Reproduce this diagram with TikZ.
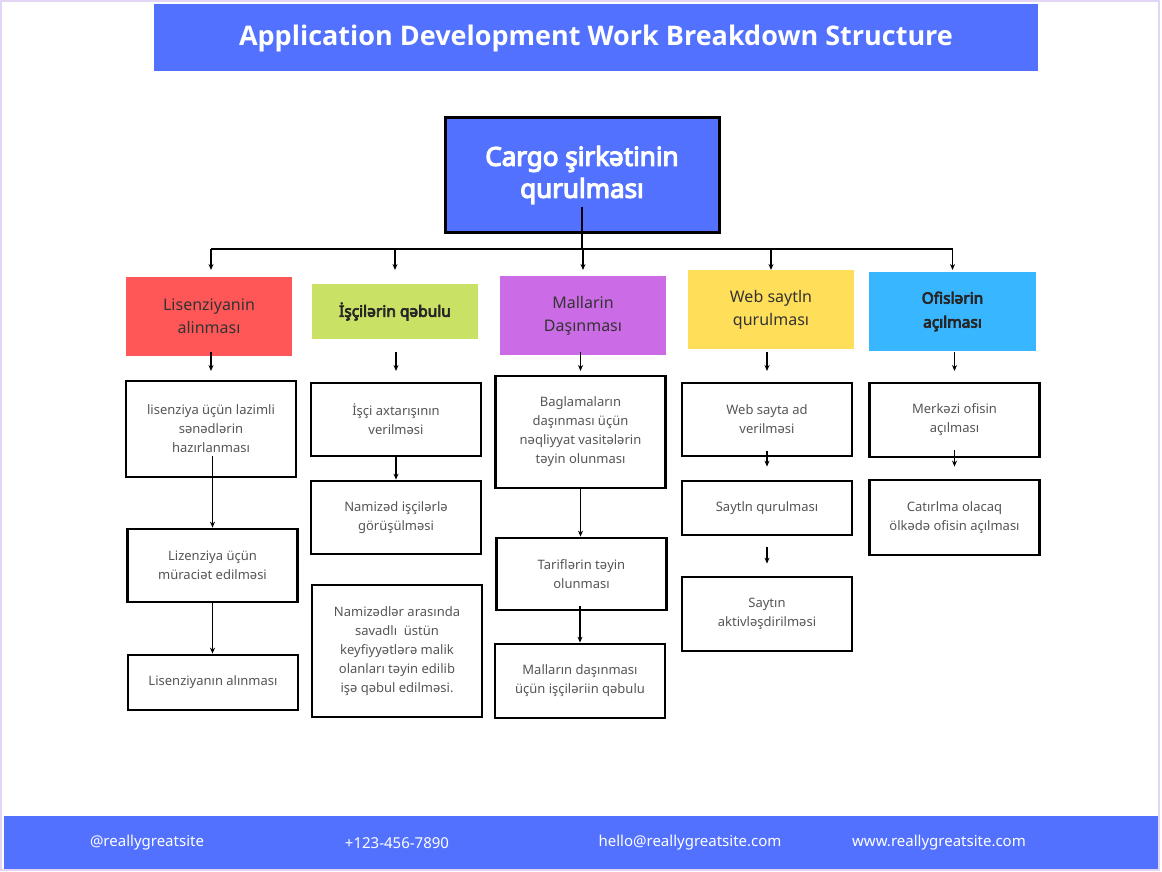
\documentclass[tikz,border=0pt]{standalone}
\usepackage{fontspec}
\setmainfont{Noto Sans}
\newfontfamily\titlefont{Open Sans}
\newfontfamily\heavyfont{Noto Sans}[FakeBold=4.5]
\usepackage{xcolor}
\usepackage{tikz}
\usetikzlibrary{arrows.meta, positioning}

\definecolor{bandblue}{HTML}{5271FF}
\definecolor{hdrred}{HTML}{FF5757}
\definecolor{hdrgreen}{HTML}{C9E265}
\definecolor{hdrpurple}{HTML}{CB6CE6}
\definecolor{hdryellow}{HTML}{FFDE59}
\definecolor{hdrblue}{HTML}{38B6FF}
\definecolor{hdrtext}{HTML}{333333}
\definecolor{tasktext}{HTML}{555555}
\definecolor{frameline}{HTML}{E2D5F5}

\begin{document}
\begin{tikzpicture}[
            x=1pt, y=-1pt,
            hdr/.style={rectangle, minimum width=166pt, minimum height=79pt, inner sep=0pt, align=center, font=\fontsize{16}{23}\selectfont, text=hdrtext},
            task/.style={rectangle, draw, line width=2.8pt, minimum width=170pt, inner sep=0pt, align=center, font=\fontsize{13}{19}\selectfont, text=tasktext},
            band/.style={rectangle, fill=bandblue, inner sep=0pt},
            foot/.style={text=white, font=\fontsize{15}{17}\selectfont},
            arr/.style={-{Stealth[length=6pt,width=5pt]}, line width=1.1pt}
        ]
        \useasboundingbox (0,0) rectangle (1162,872);
        \fill[white] (0,0) rectangle (1162,872);
        \draw[frameline, line width=2pt] (1,1) rectangle (1159,870);

        % Title band
        \node[band, minimum width=884pt, minimum height=67pt, text=white, font=\titlefont\fontsize{27}{30}\selectfont\bfseries] (title) at (596,38) {Application Development Work Breakdown Structure};

        % Root
        \node[band, draw=black, line width=3pt, minimum width=274pt, minimum height=114pt, align=center, text=white, font=\heavyfont\fontsize{26}{32}\selectfont] (root) at (582,175) {Cargo şirkətinin\\qurulması};

        % Headers
        \node[hdr, fill=hdrred] (h1) at (209,316) {Lisenziyanin\\alinması};
        \node[hdr, fill=hdrgreen, minimum height=55pt, font=\heavyfont\fontsize{15.5}{21}\selectfont, text=black!85] (h2) at (395,311.5) {İşçilərin qəbulu};
        \node[hdr, fill=hdrpurple] (h3) at (583,315.5) {Mallarin\\Daşınması};
        \node[hdr, fill=hdryellow] (h4) at (771,309.5) {Web saytln\\qurulması};
        \node[hdr, fill=hdrblue, minimum width=167pt, font=\heavyfont\fontsize{15.5}{24}\selectfont, text=black!85] (h5) at (952.5,311.5) {Ofislərin\\açılması};

        % Tasks
        \node[task, minimum height=96pt] (b11) at (211,429) {lisenziya üçün lazimli\\sənədlərin\\hazırlanması};
        \node[task, minimum height=73pt] (b12) at (212.5,565.5) {Lizenziya üçün\\müraciət edilməsi};
        \node[task, minimum height=55pt] (b13) at (213,682.5) {Lisenziyanın alınması};

        \node[task, minimum height=73pt] (b21) at (396,419.5) {İşçi axtarışının\\verilməsi};
        \node[task, minimum height=73pt] (b22) at (396,517.5) {Namizəd işçilərlə\\görüşülməsi};
        \node[task, minimum height=132pt] (b23) at (397,651) {Namizədlər arasında\\savadlı\ \ üstün\\keyfiyyətlərə malik\\olanları təyin edilib\\işə qəbul edilməsi.};

        \node[task, minimum height=112pt] (b31) at (580.5,432) {Baglamaların\\daşınması üçün\\nəqliyyat vasitələrin\\təyin olunması};
        \node[task, minimum height=72pt] (b32) at (581.5,574) {Tariflərin təyin\\olunması};
        \node[task, minimum height=74pt] (b33) at (580,681) {Malların daşınması\\üçün işçiləriin qəbulu};

        \node[task, minimum height=73pt] (b41) at (767,419.5) {Web sayta ad\\verilməsi};
        \node[task, minimum height=54pt] (b42) at (767,508) {Saytln qurulması};
        \node[task, minimum height=74pt] (b43) at (767,614) {Saytın\\aktivləşdirilməsi};

        \node[task, minimum height=74pt] (b51) at (954.5,420) {Merkəzi ofisin\\açılması};
        \node[task, minimum height=75pt] (b52) at (954.5,517.5) {Catırlma olacaq\\ölkədə ofisin açılması};

        % Tree connectors
        \coordinate (bar) at (582,249);
        \coordinate (bartip) at (582,270);
        \draw[line width=1.1pt] ([yshift=27pt]root.south) -- (root.south |- bar);
        \draw[line width=1.1pt] (b11 |- bar) -- (h5 |- bar);
        \foreach \h in {b11,h2,h3,h4,h5}
            \draw[arr] (\h |- bar) -- (\h |- bartip);

        % Header to first task
        \coordinate (dnA) at (0,352);
        \coordinate (dnB) at (0,371);
        \foreach \b in {b11,b21,b31,b41,b51}
            \draw[arr] (\b |- dnA) -- (\b |- dnB);

        % Task arrows
        \draw[arr] ([yshift=22pt]b12.south |- b11.south) -- (b12.north);
        \draw[arr] (b12.south) -- (b12.south |- b13.north);
        \draw[arr] (b21.south) -- (b22.north);
        \draw[arr] (b31.south) -- (b31.south |- b32.north);
        \draw[arr] ([yshift=5pt]b33.south |- b32.south) -- (b33.north);
        \draw[arr] ([yshift=6pt]b41.south) -- ([yshift=13pt]b42.north);
        \draw[arr] ([yshift=-11pt]b42.south) -- ([yshift=12pt]b43.north);
        \draw[arr] ([yshift=8pt]b51.south) -- ([yshift=12pt]b52.north);

        % Footer
        \node[band, minimum width=1154pt, minimum height=53pt] (footer) at (581,842.5) {};
        \node[foot] (handle) at (147,843) {@reallygreatsite};
        \node[foot] (phone) at (397,843) {+123-456-7890};
        \node[foot] (mail) at (690,843) {hello@reallygreatsite.com};
        \node[foot] (web) at (939,843) {www.reallygreatsite.com};

    \end{tikzpicture}
\end{document}
